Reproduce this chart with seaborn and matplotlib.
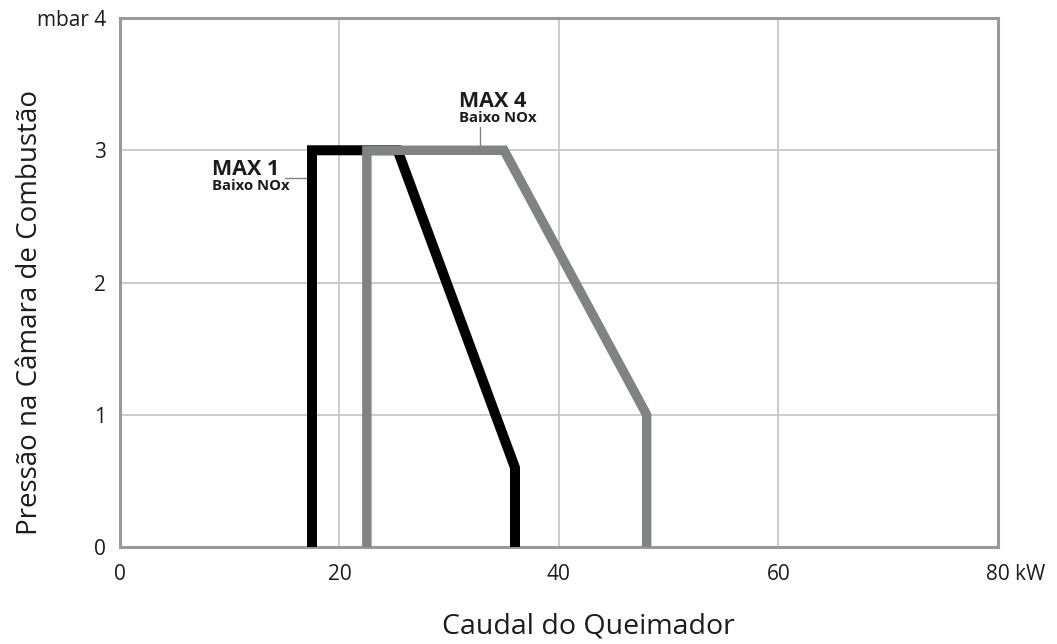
import numpy as np
import pandas as pd
import matplotlib
matplotlib.use("Agg")
import matplotlib.pyplot as plt
import matplotlib.transforms as mtransforms
import seaborn as sns

# Data
max1_x = [17.5, 17.5, 25.3, 36.0, 36.0]
max1_y = [0.0, 3.0, 3.0, 0.6, 0.0]
max4_x = [22.5, 22.5, 35.0, 48.0, 48.0]
max4_y = [0.0, 3.0, 3.0, 1.0, 0.0]
x_ticks = [0, 20, 40, 60, 80]
x_tick_labels = ["0", "20", "40", "60", "80 kW"]
y_ticks = [0, 1, 2, 3, 4]
y_tick_labels = ["0", "1", "2", "3", "mbar 4"]

sns.set_theme(style="white")
plt.rcParams['font.family'] = ['Open Sans', 'DejaVu Sans']

TXT = "#1c1c1c"

fig = plt.figure(figsize=(10.57, 6.44), dpi=100)
ax = fig.add_axes([0.1135, 0.1506, 0.8305, 0.8214])

df1 = pd.DataFrame({"x": max1_x, "y": max1_y})
df4 = pd.DataFrame({"x": max4_x, "y": max4_y})

sns.lineplot(data=df1, x="x", y="y", sort=False, estimator=None, ax=ax,
             color="#000000", linewidth=7.2, solid_joinstyle="miter", zorder=3)
sns.lineplot(data=df4, x="x", y="y", sort=False, estimator=None, ax=ax,
             color="#808284", linewidth=6.8, solid_joinstyle="miter", zorder=4)

ax.set_xlim(0, 80)
ax.set_ylim(0, 4)
ax.set_xticks(x_ticks)
ax.set_xticklabels(x_tick_labels)
ax.set_yticks(y_ticks)
ax.set_yticklabels(y_tick_labels)
ax.tick_params(axis="both", length=0, labelsize=15, colors=TXT)
ax.tick_params(axis="x", pad=12)
ax.tick_params(axis="y", pad=10)
ax.grid(True, color="#c8c8c8", linewidth=1.3)
ax.set_axisbelow(True)
for s in ax.spines.values():
    s.set_color("#9a9a9a")
    s.set_linewidth(2.2)
    s.set_visible(True)

# "80 kW": keep the number on the tick, unit to the right
last = ax.get_xticklabels()[-1]
last.set_horizontalalignment("left")
last.set_transform(last.get_transform() +
                   mtransforms.ScaledTranslation(-0.115, 0, fig.dpi_scale_trans))

ax.set_xlabel("Caudal do Queimador", fontsize=20.5, color=TXT)
ax.xaxis.set_label_coords(0.534, -0.124)
ax.set_ylabel("Pressão na Câmara de Combustão", fontsize=20, color=TXT)
ax.yaxis.set_label_coords(-0.087, 0.444)

# annotations
ax.text(8.4, 2.813, "MAX 1", fontsize=15.5, fontweight="bold", color=TXT,
        ha="left", va="baseline")
ax.text(8.4, 2.73, "Baixo NOx", fontsize=10.7, fontweight="bold", color=TXT,
        ha="left", va="center")
ax.plot([15.0, 17.0], [2.79, 2.79], color="#808284", linewidth=1.0, zorder=2)

ax.text(30.9, 3.327, "MAX 4", fontsize=15.5, fontweight="bold", color=TXT,
        ha="left", va="baseline")
ax.text(30.9, 3.244, "Baixo NOx", fontsize=10.7, fontweight="bold", color=TXT,
        ha="left", va="center")
ax.plot([32.8, 32.8], [3.176, 3.03], color="#808284", linewidth=1.0, zorder=2)

fig.savefig("out.png", dpi=100)
